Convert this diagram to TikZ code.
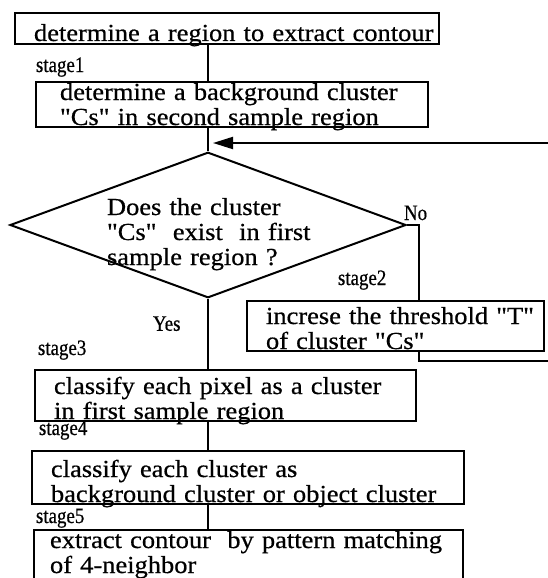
\documentclass[tikz,border=0pt]{standalone}
\usepackage{fontspec}
\setmainfont[FakeStretch=1.08, FakeBold=0.6, Ligatures=TeXOff]{Liberation Serif}
\newfontfamily\labelfont[FakeStretch=0.86, FakeBold=0.6, Ligatures=TeXOff]{Liberation Serif}
\usepackage{tikz}
\usetikzlibrary{positioning, arrows.meta, shapes.geometric}

\begin{document}
\begin{tikzpicture}[x=1pt, y=-1pt, line width=2pt]
        \tikzstyle{procbox} = [rectangle, draw, anchor=north west, align=left, inner xsep=0pt, inner ysep=2pt, text height=20pt, text depth=25pt, font=\fontsize{24.5}{25}\selectfont, execute at begin node={\leftskip=19pt\relax}]
        \tikzstyle{decision} = [diamond, draw, align=left, text width=220pt, text height=26pt, text depth=46pt, aspect=2.72, inner xsep=-10pt, inner ysep=0pt, minimum width=396pt, minimum height=142pt, font=\fontsize{24.5}{25}\selectfont, execute at begin node={\leftskip=9pt\relax}]
        \tikzstyle{stagelabel} = [inner sep=0pt, anchor=base west, font=\labelfont\fontsize{22}{24}\selectfont]
        \tikzstyle{line} = [line width=2pt]
        \tikzstyle{arrow} = [line width=2pt, -{Triangle[length=20pt, width=12pt]}, shorten >=5pt]

        \useasboundingbox (0,0) rectangle (548,578);

        \node [procbox, text width=424pt, text height=26pt, text depth=1pt] (b0) at (14,12) {determine a region to extract contour};
        \node [procbox, text width=392pt, text height=16pt, execute at begin node={\leftskip=24pt\relax}] (b1) at (35,81) {determine a background cluster\\"Cs" in second sample region};
        \node [decision] (dia) at (208,225) {Does the cluster\\"Cs"~ exist~ in first\\sample region ?};
        \node [procbox, text width=297pt, text height=21pt] (b2) at (246,300) {increse the threshold "T"\\of cluster "Cs"};
        \node [procbox, text width=381pt, text height=22pt] (b3) at (34,369) {classify each pixel as a cluster\\in first sample region};
        \node [procbox, text width=432pt, text height=24pt] (b4) at (31,450) {classify each cluster as\\background cluster or object cluster};
        \node [procbox, text width=429pt, text height=16pt, text depth=40pt, execute at begin node={\leftskip=16pt\relax}] (b5) at (33,529) {extract contour~ by pattern matching\\of 4-neighbor};

        \node [stagelabel, above=9pt of b1.north west, anchor=base west] (s1) {stage1};
        \node [stagelabel, above right=15pt and 91pt of b2.north west, anchor=base west] (s2) {stage2};
        \node [stagelabel, above right=14pt and 3pt of b3.north west, anchor=base west] (s3) {stage3};
        \node [stagelabel, above right=15pt and 7pt of b4.north west, anchor=base west] (s4) {stage4};
        \node [stagelabel, above right=6pt and 2pt of b5.north west, anchor=base west] (s5) {stage5};
        \node [stagelabel, below left=32pt and 56pt of dia.south, anchor=base west] (yes) {Yes};
        \node [stagelabel, above left=5pt and 4pt of dia.east, anchor=base west] (no) {No};

        \coordinate (loopin) at (552,143);
        \coordinate (loopout) at (552,361);

        \draw [line] (dia.north |- b0.south) -- (dia.north |- b1.north);
        \draw [line] (dia.north |- b1.south) -- (dia.north);
        \draw [arrow] (loopin) -- (loopin -| dia.north);
        \draw [line] (dia.east) -| ([xshift=23pt]b2.north);
        \draw [line] ([xshift=23pt]b2.south) |- (loopout);
        \draw [line] (dia.south) -- (dia.south |- b3.north);
        \draw [line] (dia.south |- b3.south) -- (dia.south |- b4.north);
        \draw [line] (dia.south |- b4.south) -- (dia.south |- b5.north);
    \end{tikzpicture}
\end{document}
